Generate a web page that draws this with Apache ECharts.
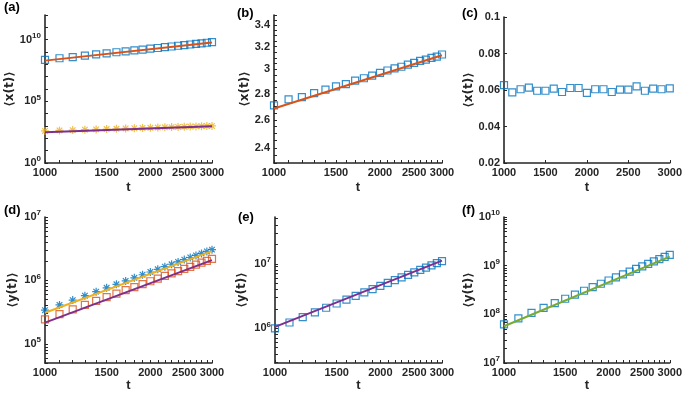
<!DOCTYPE html>
<html><head><meta charset="utf-8">
<script src="https://cdn.jsdelivr.net/npm/echarts@6/dist/echarts.min.js"></script>
<style>html,body{margin:0;padding:0;background:#fff}#c{width:685px;height:399px}</style>
</head><body><div id="c"></div>
<script>
// ---------- data ----------
const T = [1000,1100,1200,1300,1400,1500,1600,1700,1800,1900,2000,2100,2200,2300,2400,2500,2600,2700,2800,2900,3000];
const T_FIT = [1000, 3000];

const aSquares = [2.3e8,3.1e8,3.9e8,5.0e8,6.4e8,7.7e8,9.5e8,1.12e9,1.35e9,1.57e9,1.85e9,2.12e9,2.46e9,2.78e9,3.2e9,3.58e9,4.06e9,4.5e9,5.08e9,5.6e9,6.25e9];
const aStars = [400,435,465,502,530,566,594,630,657,692,718,752,780,814,840,874,900,932,958,990,1015];
const aFitSquares = [2.0e8, 5.8e9];
const aFitStars = [316, 950];

const bSquares = [2.708,2.755,2.773,2.805,2.833,2.858,2.877,2.905,2.925,2.947,2.970,2.990,3.008,3.022,3.040,3.055,3.073,3.084,3.099,3.111,3.129];
const bFit = [2.685, 3.123];

const cSquares = [0.0627,0.0587,0.0604,0.0613,0.0596,0.0596,0.0607,0.0589,0.0611,0.0611,0.0584,0.0604,0.0604,0.0589,0.0602,0.0602,0.0620,0.0596,0.0607,0.0604,0.0609];

const dStars = [3.40e5,4.11e5,4.90e5,5.75e5,6.66e5,7.65e5,8.70e5,9.83e5,1.10e6,1.23e6,1.36e6,1.50e6,1.65e6,1.80e6,1.96e6,2.13e6,2.30e6,2.48e6,2.67e6,2.86e6,3.06e6];
const dSquares = [2.43e5,2.94e5,3.50e5,4.11e5,4.76e5,5.47e5,6.22e5,7.02e5,7.87e5,8.77e5,9.72e5,1.07e6,1.18e6,1.29e6,1.40e6,1.52e6,1.64e6,1.77e6,1.91e6,2.04e6,2.19e6];
const dFitStars = [3.1e5, 2.9e6];
const dFitSquares = [2.16e5, 2.09e6];

const eSquares = [1.0e6,1.23e6,1.49e6,1.77e6,2.08e6,2.42e6,2.79e6,3.18e6,3.60e6,4.05e6,4.53e6,5.04e6,5.58e6,6.15e6,6.74e6,7.37e6,8.03e6,8.72e6,9.44e6,1.02e7,1.10e7];
const eFit = [1.05e6, 1.12e7];

const fSquares = [6.2e7,8.25e7,1.07e8,1.36e8,1.70e8,2.09e8,2.54e8,3.05e8,3.62e8,4.25e8,4.96e8,5.74e8,6.60e8,7.54e8,8.57e8,9.69e8,1.09e9,1.22e9,1.36e9,1.51e9,1.67e9];
const fFit = [5.7e7, 1.53e9];

// ---------- ticks / labels ----------
const xLogTicks = [1000,1100,1200,1300,1400,1500,1600,1700,1800,1900,2000,2100,2200,2300,2400,2500,2600,2700,2800,2900,3000];
const xLabels = [1000,1500,2000,2500,3000];
const aYTicks = [1,1e1,1e2,1e3,1e4,1e5,1e6,1e7,1e8,1e9,1e10,1e11,1e12];
const aYLabels = [1,1e5,1e10];
const bYTicks = [2.3,2.35,2.4,2.45,2.5,2.55,2.6,2.65,2.7,2.75,2.8,2.85,2.9,2.95,3.0,3.05,3.1,3.15,3.2,3.25,3.3,3.35,3.4,3.45,3.5];
const bYLabels = [2.4,2.6,2.8,3.0,3.2,3.4];
const cYLabels = [0.02,0.04,0.06,0.08,0.1];
const dYTicks = [5e4,6e4,7e4,8e4,9e4,1e5,2e5,3e5,4e5,5e5,6e5,7e5,8e5,9e5,1e6,2e6,3e6,4e6,5e6,6e6,7e6,8e6,9e6,1e7];
const dYLabels = [1e5,1e6,1e7];
const eYTicks = [3e5,4e5,5e5,6e5,7e5,8e5,9e5,1e6,2e6,3e6,4e6,5e6,6e6,7e6,8e6,9e6,1e7,2e7,3e7,4e7,5e7];
const eYLabels = [1e6,1e7];
const fYTicks = [1e7,2e7,3e7,4e7,5e7,6e7,7e7,8e7,9e7,1e8,2e8,3e8,4e8,5e8,6e8,7e8,8e8,9e8,1e9,2e9,3e9,4e9,5e9,6e9,7e9,8e9,9e9,1e10];
const fYLabels = [1e7,1e8,1e9,1e10];

// ---------- style ----------
const FONT = 'Liberation Sans, Arial, Helvetica, sans-serif';
const AX = '#262626';
const BLUE = '#0072BD', ORANGE = '#D95319', YELLOW = '#EDB120', PURPLE = '#7E2F8E', GREEN = '#77AC30';
const STAR = 'path://M5 0L5 10M0 5L10 5M1.5 1.5L8.5 8.5M1.5 8.5L8.5 1.5';

const grids = [
  {left: 45, top: 15, width: 167, height: 148},
  {left: 274, top: 15, width: 168, height: 148},
  {left: 504, top: 17, width: 167, height: 146},
  {left: 45, top: 217, width: 167, height: 146},
  {left: 275, top: 217, width: 167, height: 146},
  {left: 504, top: 217, width: 167, height: 146}
];

const supRich = {
  b: {fontSize: 11, fontWeight: 'bold', fontFamily: FONT, color: AX, lineHeight: 12},
  s: {fontSize: 8, fontWeight: 'bold', fontFamily: FONT, color: AX, lineHeight: 8, padding: [0, 0, 8, 0]}
};
const powFmt = v => '{b|10}{s|' + Math.round(Math.log10(v)) + '}';
const intFmt = v => String(Math.round(v));

function baseAxis(extra) {
  return Object.assign({
    axisLine: {show: true, onZero: false, lineStyle: {color: AX, width: 1.6}},
    splitLine: {show: false},
    minorTick: {show: false}
  }, extra);
}
function xLog(gi) {
  return baseAxis({
    type: 'log', logBase: 10, gridIndex: gi, min: 1000, max: 3000,
    name: 't', nameLocation: 'middle', nameGap: gi < 3 ? 18 : 16,
    nameTextStyle: {fontSize: 13, fontWeight: 'bold', fontFamily: FONT, color: AX},
    axisTick: {show: true, inside: true, length: 3, customValues: xLogTicks, lineStyle: {color: AX, width: 1}},
    axisLabel: {show: true, customValues: xLabels, margin: 4, fontSize: 11, fontWeight: 'bold', fontFamily: FONT, color: AX,
      formatter: intFmt}
  });
}
function yAxis(gi, type, min, max, ticks, labels, fmt, name, gap, rich) {
  const lab = {show: true, customValues: labels, margin: 4, fontSize: 11, fontWeight: 'bold', fontFamily: FONT, color: AX, formatter: fmt};
  if (rich) lab.rich = rich;
  return baseAxis({
    type: type, gridIndex: gi, min: min, max: max, logBase: 10,
    name: name, nameLocation: 'middle', nameGap: gap,
    nameTextStyle: {fontSize: 12, fontWeight: 'bold', fontFamily: 'DejaVu Sans, Liberation Sans, sans-serif', color: AX},
    axisTick: {show: true, inside: true, length: 3, customValues: ticks, lineStyle: {color: AX, width: 1}},
    axisLabel: lab
  });
}

const xAxes = [
  xLog(0), xLog(1),
  baseAxis({type: 'value', gridIndex: 2, min: 1000, max: 3000, interval: 500,
    name: 't', nameLocation: 'middle', nameGap: 18,
    nameTextStyle: {fontSize: 13, fontWeight: 'bold', fontFamily: FONT, color: AX},
    axisTick: {show: true, inside: true, length: 3, lineStyle: {color: AX, width: 1}},
    axisLabel: {show: true, margin: 4, fontSize: 11, fontWeight: 'bold', fontFamily: FONT, color: AX, formatter: intFmt}}),
  xLog(3), xLog(4), xLog(5)
];
const yAxes = [
  yAxis(0, 'log', 1, 1e12, aYTicks, aYLabels, powFmt, '⟨x(t)⟩', 27, supRich),
  yAxis(1, 'log', 2.3, 3.5, bYTicks, bYLabels, v => String(Math.round(v * 10) / 10), '⟨x(t)⟩', 18, null),
  yAxis(2, 'value', 0.02, 0.1, cYLabels, cYLabels, v => String(Math.round(v * 100) / 100), '⟨x(t)⟩', 23, null),
  yAxis(3, 'log', 5e4, 1e7, dYTicks, dYLabels, powFmt, '⟨y(t)⟩', 26, supRich),
  yAxis(4, 'log', 2.9e5, 5.3e7, eYTicks, eYLabels, powFmt, '⟨y(t)⟩', 27, supRich),
  yAxis(5, 'log', 1e7, 1e10, fYTicks, fYLabels, powFmt, '⟨y(t)⟩', 23, supRich)
];

const pairs = (xs, ys) => xs.map((x, i) => [x, ys[i]]);
function sq(gi, xs, ys, color) {
  return {type: 'scatter', xAxisIndex: gi, yAxisIndex: gi, data: pairs(xs, ys), symbol: 'rect', symbolSize: 7,
    itemStyle: {color: 'rgba(0,0,0,0)', borderColor: color, borderWidth: 1.2}, z: 3};
}
function st(gi, xs, ys, color) {
  return {type: 'scatter', xAxisIndex: gi, yAxisIndex: gi, data: pairs(xs, ys), symbol: STAR, symbolSize: 8,
    itemStyle: {color: 'rgba(0,0,0,0)', borderColor: color, borderWidth: 1.2}, z: 3};
}
function ln(gi, xs, ys, color) {
  return {type: 'line', xAxisIndex: gi, yAxisIndex: gi, data: pairs(xs, ys), symbol: 'none',
    lineStyle: {color: color, width: 2}, z: 4};
}

const series = [
  sq(0, T, aSquares, BLUE), ln(0, T_FIT, aFitSquares, ORANGE),
  st(0, T, aStars, YELLOW), ln(0, T_FIT, aFitStars, PURPLE),
  sq(1, T, bSquares, BLUE), ln(1, T_FIT, bFit, ORANGE),
  sq(2, T, cSquares, BLUE),
  st(3, T, dStars, BLUE), ln(3, T_FIT, dFitStars, YELLOW),
  sq(3, T, dSquares, ORANGE), ln(3, T_FIT, dFitSquares, PURPLE),
  sq(4, T, eSquares, BLUE), ln(4, T_FIT, eFit, PURPLE),
  sq(5, T, fSquares, BLUE), ln(5, T_FIT, fFit, GREEN)
];

const panelLetters = [
  {t: '(a)', x: 4, y: 1}, {t: '(b)', x: 237, y: 7}, {t: '(c)', x: 462, y: 7},
  {t: '(d)', x: 4, y: 204}, {t: '(e)', x: 238, y: 211}, {t: '(f)', x: 462, y: 204}
];

const chart = echarts.init(document.getElementById('c'), null, {renderer: 'canvas'});
chart.setOption({
  animation: false,
  backgroundColor: '#fff',
  grid: grids,
  xAxis: xAxes,
  yAxis: yAxes,
  series: series,
  graphic: panelLetters.map(p => ({type: 'text', left: p.x, top: p.y,
    style: {text: p.t, fontSize: 13, fontWeight: 'bold', fontFamily: FONT, fill: '#000'}}))
});
</script>
</body></html>
